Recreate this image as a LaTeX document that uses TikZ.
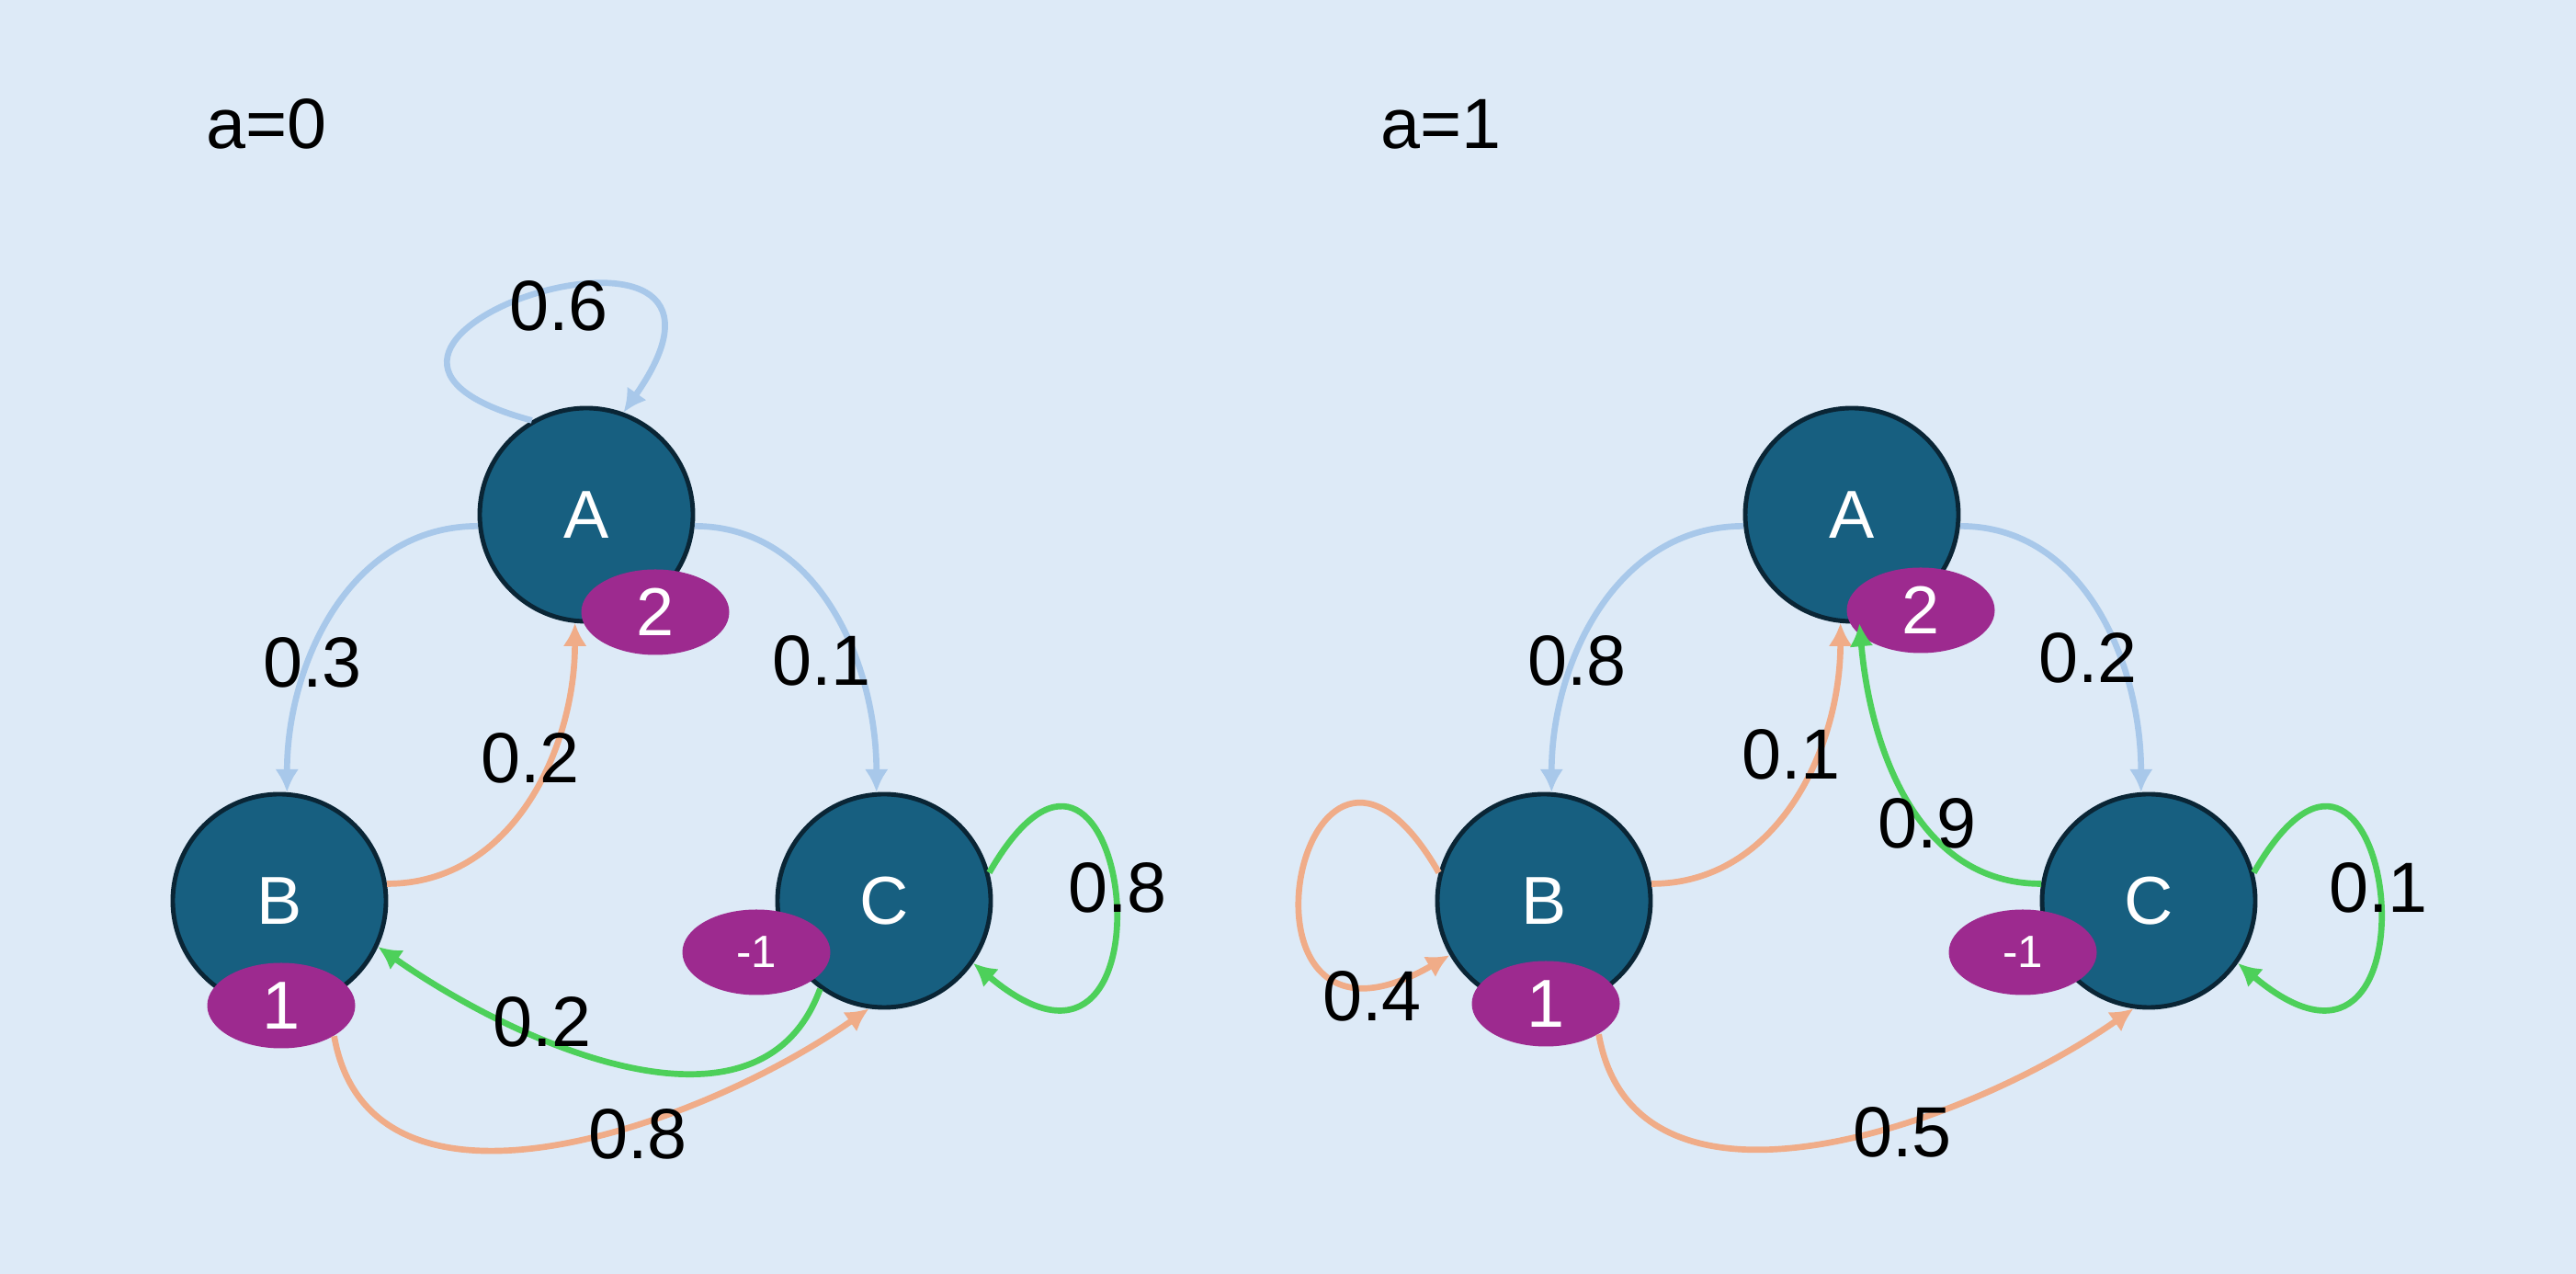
\documentclass[tikz,border=0pt]{standalone}
\usepackage{fontspec}
\setmainfont{Liberation Sans}
\usepackage{xcolor}
\usepackage{tikz}
\usetikzlibrary{arrows.meta}
\usetikzlibrary{shapes}
\definecolor{bgblue}{RGB}{221,234,247}
\definecolor{statefill}{RGB}{23,95,128}
\definecolor{stateline}{RGB}{10,37,53}
\definecolor{rewardfill}{RGB}{157,42,143}
\definecolor{blueedge}{RGB}{168,200,234}
\definecolor{salmonedge}{RGB}{240,172,136}
\definecolor{greenedge}{RGB}{77,208,90}

\begin{document}
\begin{tikzpicture}[
	state/.style={circle, fill=statefill, draw=stateline, line width=1.4pt, minimum size=2.32cm, inner sep=0pt, text=white, font=\fontsize{21}{25}\selectfont},
	reward/.style={ellipse, fill=rewardfill, minimum width=1.61cm, minimum height=0.93cm, inner sep=0pt, text=white, font=\fontsize{21}{25}\selectfont},
	prob/.style={inner sep=0pt, font=\fontsize{22}{26}\selectfont},
	tr/.style={line width=1.9pt, -{Latex[length=2.5mm,width=2.6mm]}}]

	\fill[bgblue] (0,0) rectangle (28.03,13.86);
	\useasboundingbox (0,0) rectangle (28.03,13.86);

	% a = 0
	\node[prob] (t0) at (2.90,12.51) {a=0};
	\node[state] (A0) at (6.38,8.26) {A};
	\node[state] (B0) at (3.04,4.06) {B};
	\node[state] (C0) at (9.62,4.06) {C};
	\node[reward] (rA0) at (7.13,7.20) {2};
	\node[reward] (rB0) at (3.06,2.92) {1};
	\node[reward, font=\fontsize{14}{17}\selectfont] (rC0) at (8.23,3.50) {-1};

	\draw[tr, blueedge] (A0.120) to[out=165, in=55, distance=3.25cm] (A0.70);
	\draw[tr, blueedge] (A0.186) to[out=180, in=90] (B0.86);
	\draw[tr, blueedge] (A0.354) to[out=0, in=90] (C0.94);
	\draw[tr, salmonedge] (B0.9) to[out=0, in=-90] (A0.264);
	\draw[tr, greenedge] (C0.234) to[out=-110, in=-35] (B0.-25);
	\draw[tr, salmonedge] (rB0.-30) to[out=-80, in=215] (C0.262);
	\draw[tr, greenedge] (C0.15) to[out=60, in=-40, distance=3.05cm] (C0.-35);

	\node[prob] (p00) at (6.08,10.53) {0.6};
	\node[prob] (p01) at (3.40,6.65) {0.3};
	\node[prob] (p02) at (8.94,6.67) {0.1};
	\node[prob] (p03) at (5.77,5.61) {0.2};
	\node[prob] (p04) at (12.16,4.20) {0.8};
	\node[prob] (p05) at (5.90,2.74) {0.2};
	\node[prob] (p06) at (6.94,1.52) {0.8};

	% a = 1
	\node[prob] (t1) at (15.68,12.51) {a=1};
	\node[state] (A1) at (20.15,8.26) {A};
	\node[state] (B1) at (16.80,4.06) {B};
	\node[state] (C1) at (23.38,4.06) {C};
	\node[reward] (rA1) at (20.90,7.22) {2};
	\node[reward] (rB1) at (16.82,2.94) {1};
	\node[reward, font=\fontsize{14}{17}\selectfont] (rC1) at (22.01,3.50) {-1};

	\draw[tr, blueedge] (A1.186) to[out=180, in=90] (B1.86);
	\draw[tr, blueedge] (A1.354) to[out=0, in=90] (C1.94);
	\draw[tr, salmonedge] (B1.9) to[out=0, in=-90] (A1.264);
	\draw[tr, greenedge] (C1.171) to[out=180, in=-85] (A1.274);
	\draw[tr, salmonedge] (B1.165) to[out=120, in=210, distance=3cm] (B1.210);
	\draw[tr, salmonedge] (rB1.-30) to[out=-80, in=215] (C1.262);
	\draw[tr, greenedge] (C1.15) to[out=60, in=-40, distance=3.05cm] (C1.-35);

	\node[prob] (p10) at (17.16,6.67) {0.8};
	\node[prob] (p11) at (22.72,6.70) {0.2};
	\node[prob] (p12) at (19.49,5.65) {0.1};
	\node[prob] (p13) at (20.97,4.90) {0.9};
	\node[prob] (p14) at (25.88,4.20) {0.1};
	\node[prob] (p15) at (14.93,3.02) {0.4};
	\node[prob] (p16) at (20.70,1.54) {0.5};
\end{tikzpicture}
\end{document}
